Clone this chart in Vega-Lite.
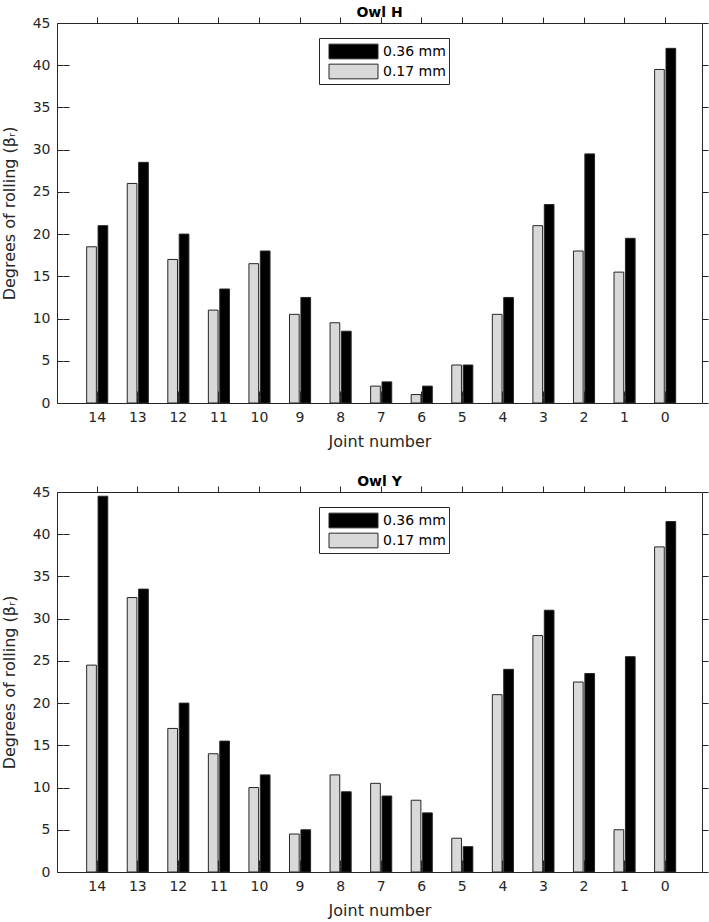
{
  "$schema": "https://vega.github.io/schema/vega-lite/v6.json",
  "datasets": {
    "owlH": [
      {"joint": 14, "size": "0.17 mm", "value": 18.5}, {"joint": 14, "size": "0.36 mm", "value": 21},
      {"joint": 13, "size": "0.17 mm", "value": 26}, {"joint": 13, "size": "0.36 mm", "value": 28.5},
      {"joint": 12, "size": "0.17 mm", "value": 17}, {"joint": 12, "size": "0.36 mm", "value": 20},
      {"joint": 11, "size": "0.17 mm", "value": 11}, {"joint": 11, "size": "0.36 mm", "value": 13.5},
      {"joint": 10, "size": "0.17 mm", "value": 16.5}, {"joint": 10, "size": "0.36 mm", "value": 18},
      {"joint": 9, "size": "0.17 mm", "value": 10.5}, {"joint": 9, "size": "0.36 mm", "value": 12.5},
      {"joint": 8, "size": "0.17 mm", "value": 9.5}, {"joint": 8, "size": "0.36 mm", "value": 8.5},
      {"joint": 7, "size": "0.17 mm", "value": 2}, {"joint": 7, "size": "0.36 mm", "value": 2.5},
      {"joint": 6, "size": "0.17 mm", "value": 1}, {"joint": 6, "size": "0.36 mm", "value": 2},
      {"joint": 5, "size": "0.17 mm", "value": 4.5}, {"joint": 5, "size": "0.36 mm", "value": 4.5},
      {"joint": 4, "size": "0.17 mm", "value": 10.5}, {"joint": 4, "size": "0.36 mm", "value": 12.5},
      {"joint": 3, "size": "0.17 mm", "value": 21}, {"joint": 3, "size": "0.36 mm", "value": 23.5},
      {"joint": 2, "size": "0.17 mm", "value": 18}, {"joint": 2, "size": "0.36 mm", "value": 29.5},
      {"joint": 1, "size": "0.17 mm", "value": 15.5}, {"joint": 1, "size": "0.36 mm", "value": 19.5},
      {"joint": 0, "size": "0.17 mm", "value": 39.5}, {"joint": 0, "size": "0.36 mm", "value": 42}
    ],
    "owlY": [
      {"joint": 14, "size": "0.17 mm", "value": 24.5}, {"joint": 14, "size": "0.36 mm", "value": 44.5},
      {"joint": 13, "size": "0.17 mm", "value": 32.5}, {"joint": 13, "size": "0.36 mm", "value": 33.5},
      {"joint": 12, "size": "0.17 mm", "value": 17}, {"joint": 12, "size": "0.36 mm", "value": 20},
      {"joint": 11, "size": "0.17 mm", "value": 14}, {"joint": 11, "size": "0.36 mm", "value": 15.5},
      {"joint": 10, "size": "0.17 mm", "value": 10}, {"joint": 10, "size": "0.36 mm", "value": 11.5},
      {"joint": 9, "size": "0.17 mm", "value": 4.5}, {"joint": 9, "size": "0.36 mm", "value": 5},
      {"joint": 8, "size": "0.17 mm", "value": 11.5}, {"joint": 8, "size": "0.36 mm", "value": 9.5},
      {"joint": 7, "size": "0.17 mm", "value": 10.5}, {"joint": 7, "size": "0.36 mm", "value": 9},
      {"joint": 6, "size": "0.17 mm", "value": 8.5}, {"joint": 6, "size": "0.36 mm", "value": 7},
      {"joint": 5, "size": "0.17 mm", "value": 4}, {"joint": 5, "size": "0.36 mm", "value": 3},
      {"joint": 4, "size": "0.17 mm", "value": 21}, {"joint": 4, "size": "0.36 mm", "value": 24},
      {"joint": 3, "size": "0.17 mm", "value": 28}, {"joint": 3, "size": "0.36 mm", "value": 31},
      {"joint": 2, "size": "0.17 mm", "value": 22.5}, {"joint": 2, "size": "0.36 mm", "value": 23.5},
      {"joint": 1, "size": "0.17 mm", "value": 5}, {"joint": 1, "size": "0.36 mm", "value": 25.5},
      {"joint": 0, "size": "0.17 mm", "value": 38.5}, {"joint": 0, "size": "0.36 mm", "value": 41.5}
    ]
  },
  "padding": {"top": 5, "left": 0, "right": 7, "bottom": 2},
  "spacing": 24,
  "background": "white",
  "config": {
    "font": "DejaVu Sans",
    "view": {"stroke": "#262626", "strokeWidth": 1},
    "axis": {
      "labelFont": "DejaVu Sans", "labelFontSize": 14, "labelColor": "#262626",
      "titleFont": "DejaVu Sans", "titleFontSize": 16, "titleFontWeight": "normal", "titleColor": "#262626",
      "tickColor": "#262626", "domain": false, "tickSize": 6, "offset": -6,
      "grid": true, "gridColor": "#262626", "gridOpacity": 1, "gridWidth": 1
    },
    "axisX": {"gridDash": [6, 368]},
    "axisY": {"gridDash": [6, 633]},
    "title": {"font": "DejaVu Sans", "fontSize": 14, "fontWeight": "bold", "color": "#000000", "offset": -4},
    "legend": {
      "orient": "none", "legendX": 262, "legendY": 15,
      "symbolType": "M-2.5,-0.75H2.5V0.75H-2.5Z", "symbolSize": 384, "symbolOffset": 21,
      "symbolStrokeColor": "#262626", "symbolStrokeWidth": 1,
      "labelFont": "DejaVu Sans", "labelFontSize": 14, "labelColor": "#000000",
      "strokeColor": "#262626", "fillColor": "white", "padding": 3, "rowPadding": 0, "labelOffset": 19
    }
  },
  "resolve": {"legend": {"color": "independent"}},
  "vconcat": [
    {
      "title": "Owl H",
      "width": 645, "height": 380,
      "data": {"name": "owlH"},
      "mark": {"type": "bar", "stroke": "#262626", "strokeWidth": 1},
      "encoding": {
        "x": {"field": "joint", "type": "ordinal", "sort": "descending",
              "scale": {"paddingInner": 0.48, "paddingOuter": 0.69, "align": 0.53},
              "axis": {"title": "Joint number", "labelAngle": 0, "labelPadding": 7, "titlePadding": 9}},
        "xOffset": {"field": "size", "type": "nominal", "sort": ["0.17 mm", "0.36 mm"], "scale": {"paddingInner": 0.15}},
        "y": {"field": "value", "type": "quantitative", "scale": {"domain": [0, 45], "nice": false},
              "axis": {"title": "Degrees of rolling (βᵣ)", "values": [0, 5, 10, 15, 20, 25, 30, 35, 40, 45], "labelPadding": 7, "titlePadding": 15}},
        "color": {"field": "size", "type": "nominal",
                  "scale": {"domain": ["0.36 mm", "0.17 mm"], "range": ["#000000", "#d9d9d9"]},
                  "legend": {"title": null}}
      }
    },
    {
      "title": "Owl Y",
      "width": 645, "height": 380,
      "data": {"name": "owlY"},
      "mark": {"type": "bar", "stroke": "#262626", "strokeWidth": 1},
      "encoding": {
        "x": {"field": "joint", "type": "ordinal", "sort": "descending",
              "scale": {"paddingInner": 0.48, "paddingOuter": 0.69, "align": 0.53},
              "axis": {"title": "Joint number", "labelAngle": 0, "labelPadding": 7, "titlePadding": 9}},
        "xOffset": {"field": "size", "type": "nominal", "sort": ["0.17 mm", "0.36 mm"], "scale": {"paddingInner": 0.15}},
        "y": {"field": "value", "type": "quantitative", "scale": {"domain": [0, 45], "nice": false},
              "axis": {"title": "Degrees of rolling (βᵣ)", "values": [0, 5, 10, 15, 20, 25, 30, 35, 40, 45], "labelPadding": 7, "titlePadding": 15}},
        "color": {"field": "size", "type": "nominal",
                  "scale": {"domain": ["0.36 mm", "0.17 mm"], "range": ["#000000", "#d9d9d9"]},
                  "legend": {"title": null}}
      }
    }
  ]
}
